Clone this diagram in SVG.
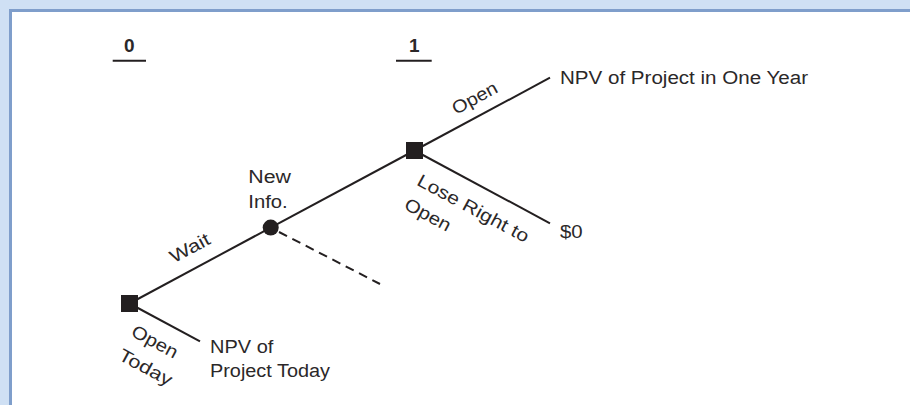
<svg xmlns="http://www.w3.org/2000/svg" width="910" height="405" viewBox="0 0 910 405">
<style>
.t{font-family:"Liberation Sans",Arial,sans-serif;font-size:18px;fill:#2b2829}
.h{font-family:"Liberation Sans",Arial,sans-serif;font-size:19px;font-weight:bold;fill:#2b2829}
.ln{stroke:#231f20;stroke-width:2;fill:none}
.dash{stroke:#231f20;stroke-width:2;fill:none;stroke-dasharray:9 6}
.nd{fill:#231f20}
</style>
<rect x="0" y="0" width="910" height="405" fill="#cfe0f4"/>
<rect x="9" y="9" width="901" height="396" fill="#7f9ecb"/>
<rect x="12" y="12" width="898" height="393" fill="#ffffff"/>
<g id="time-axis">
<text class="h" x="129.3" y="52.3" text-anchor="middle">0</text>
<line x1="112.7" y1="60.7" x2="146" y2="60.7" stroke="#231f20" stroke-width="2"/>
<text class="h" x="414.2" y="52.3" text-anchor="middle">1</text>
<line x1="396" y1="60.7" x2="431.7" y2="60.7" stroke="#231f20" stroke-width="2"/>
</g>
<g id="connectors">
<line class="ln" x1="129.5" y1="303.5" x2="270.7" y2="227.6"/>
<line class="ln" x1="270.7" y1="227.6" x2="414.5" y2="150.5"/>
<line class="ln" x1="414.5" y1="150.5" x2="550" y2="77.7"/>
<line class="ln" x1="414.5" y1="150.5" x2="550" y2="223.3"/>
<line class="ln" x1="129.5" y1="303.5" x2="200" y2="341.4"/>
<line class="dash" x1="279" y1="232" x2="380" y2="284"/>
<text class="t" text-anchor="middle" transform="translate(192.8,253.4) rotate(-28.2)" textLength="43" lengthAdjust="spacingAndGlyphs">Wait</text>
<text class="t" text-anchor="middle" transform="translate(477.6,103.4) rotate(-28.2)" textLength="49" lengthAdjust="spacingAndGlyphs">Open</text>
<g transform="translate(415.7,184.5) rotate(28.2)">
<text class="t" x="0" y="0" textLength="124" lengthAdjust="spacingAndGlyphs">Lose Right to</text>
<text class="t" x="0" y="27" textLength="50" lengthAdjust="spacingAndGlyphs">Open</text>
</g>
<g transform="translate(130,335.2) rotate(28.2)">
<text class="t" x="0" y="0" textLength="50" lengthAdjust="spacingAndGlyphs">Open</text>
<text class="t" x="0" y="27" textLength="58" lengthAdjust="spacingAndGlyphs">Today</text>
</g>
</g>
<g id="node-open-today-decision">
<rect class="nd" x="121" y="295" width="17" height="17"/>
</g>
<g id="node-new-info">
<circle class="nd" cx="270.7" cy="227.6" r="8"/>
<text class="t" x="248.3" y="183.3" textLength="42.7" lengthAdjust="spacingAndGlyphs">New</text>
<text class="t" x="248.3" y="207.7" textLength="39.4" lengthAdjust="spacingAndGlyphs">Info.</text>
</g>
<g id="node-year1-decision">
<rect class="nd" x="406" y="142" width="17" height="17"/>
</g>
<g id="node-npv-one-year">
<text class="t" x="560" y="84.3" textLength="248" lengthAdjust="spacingAndGlyphs">NPV of Project in One Year</text>
</g>
<g id="node-zero">
<text class="t" x="560" y="238.3" textLength="22.7" lengthAdjust="spacingAndGlyphs">$0</text>
</g>
<g id="node-npv-today">
<text class="t" x="210" y="353.3" textLength="63.3" lengthAdjust="spacingAndGlyphs">NPV of</text>
<text class="t" x="210" y="377.3" textLength="120" lengthAdjust="spacingAndGlyphs">Project Today</text>
</g>
</svg>
